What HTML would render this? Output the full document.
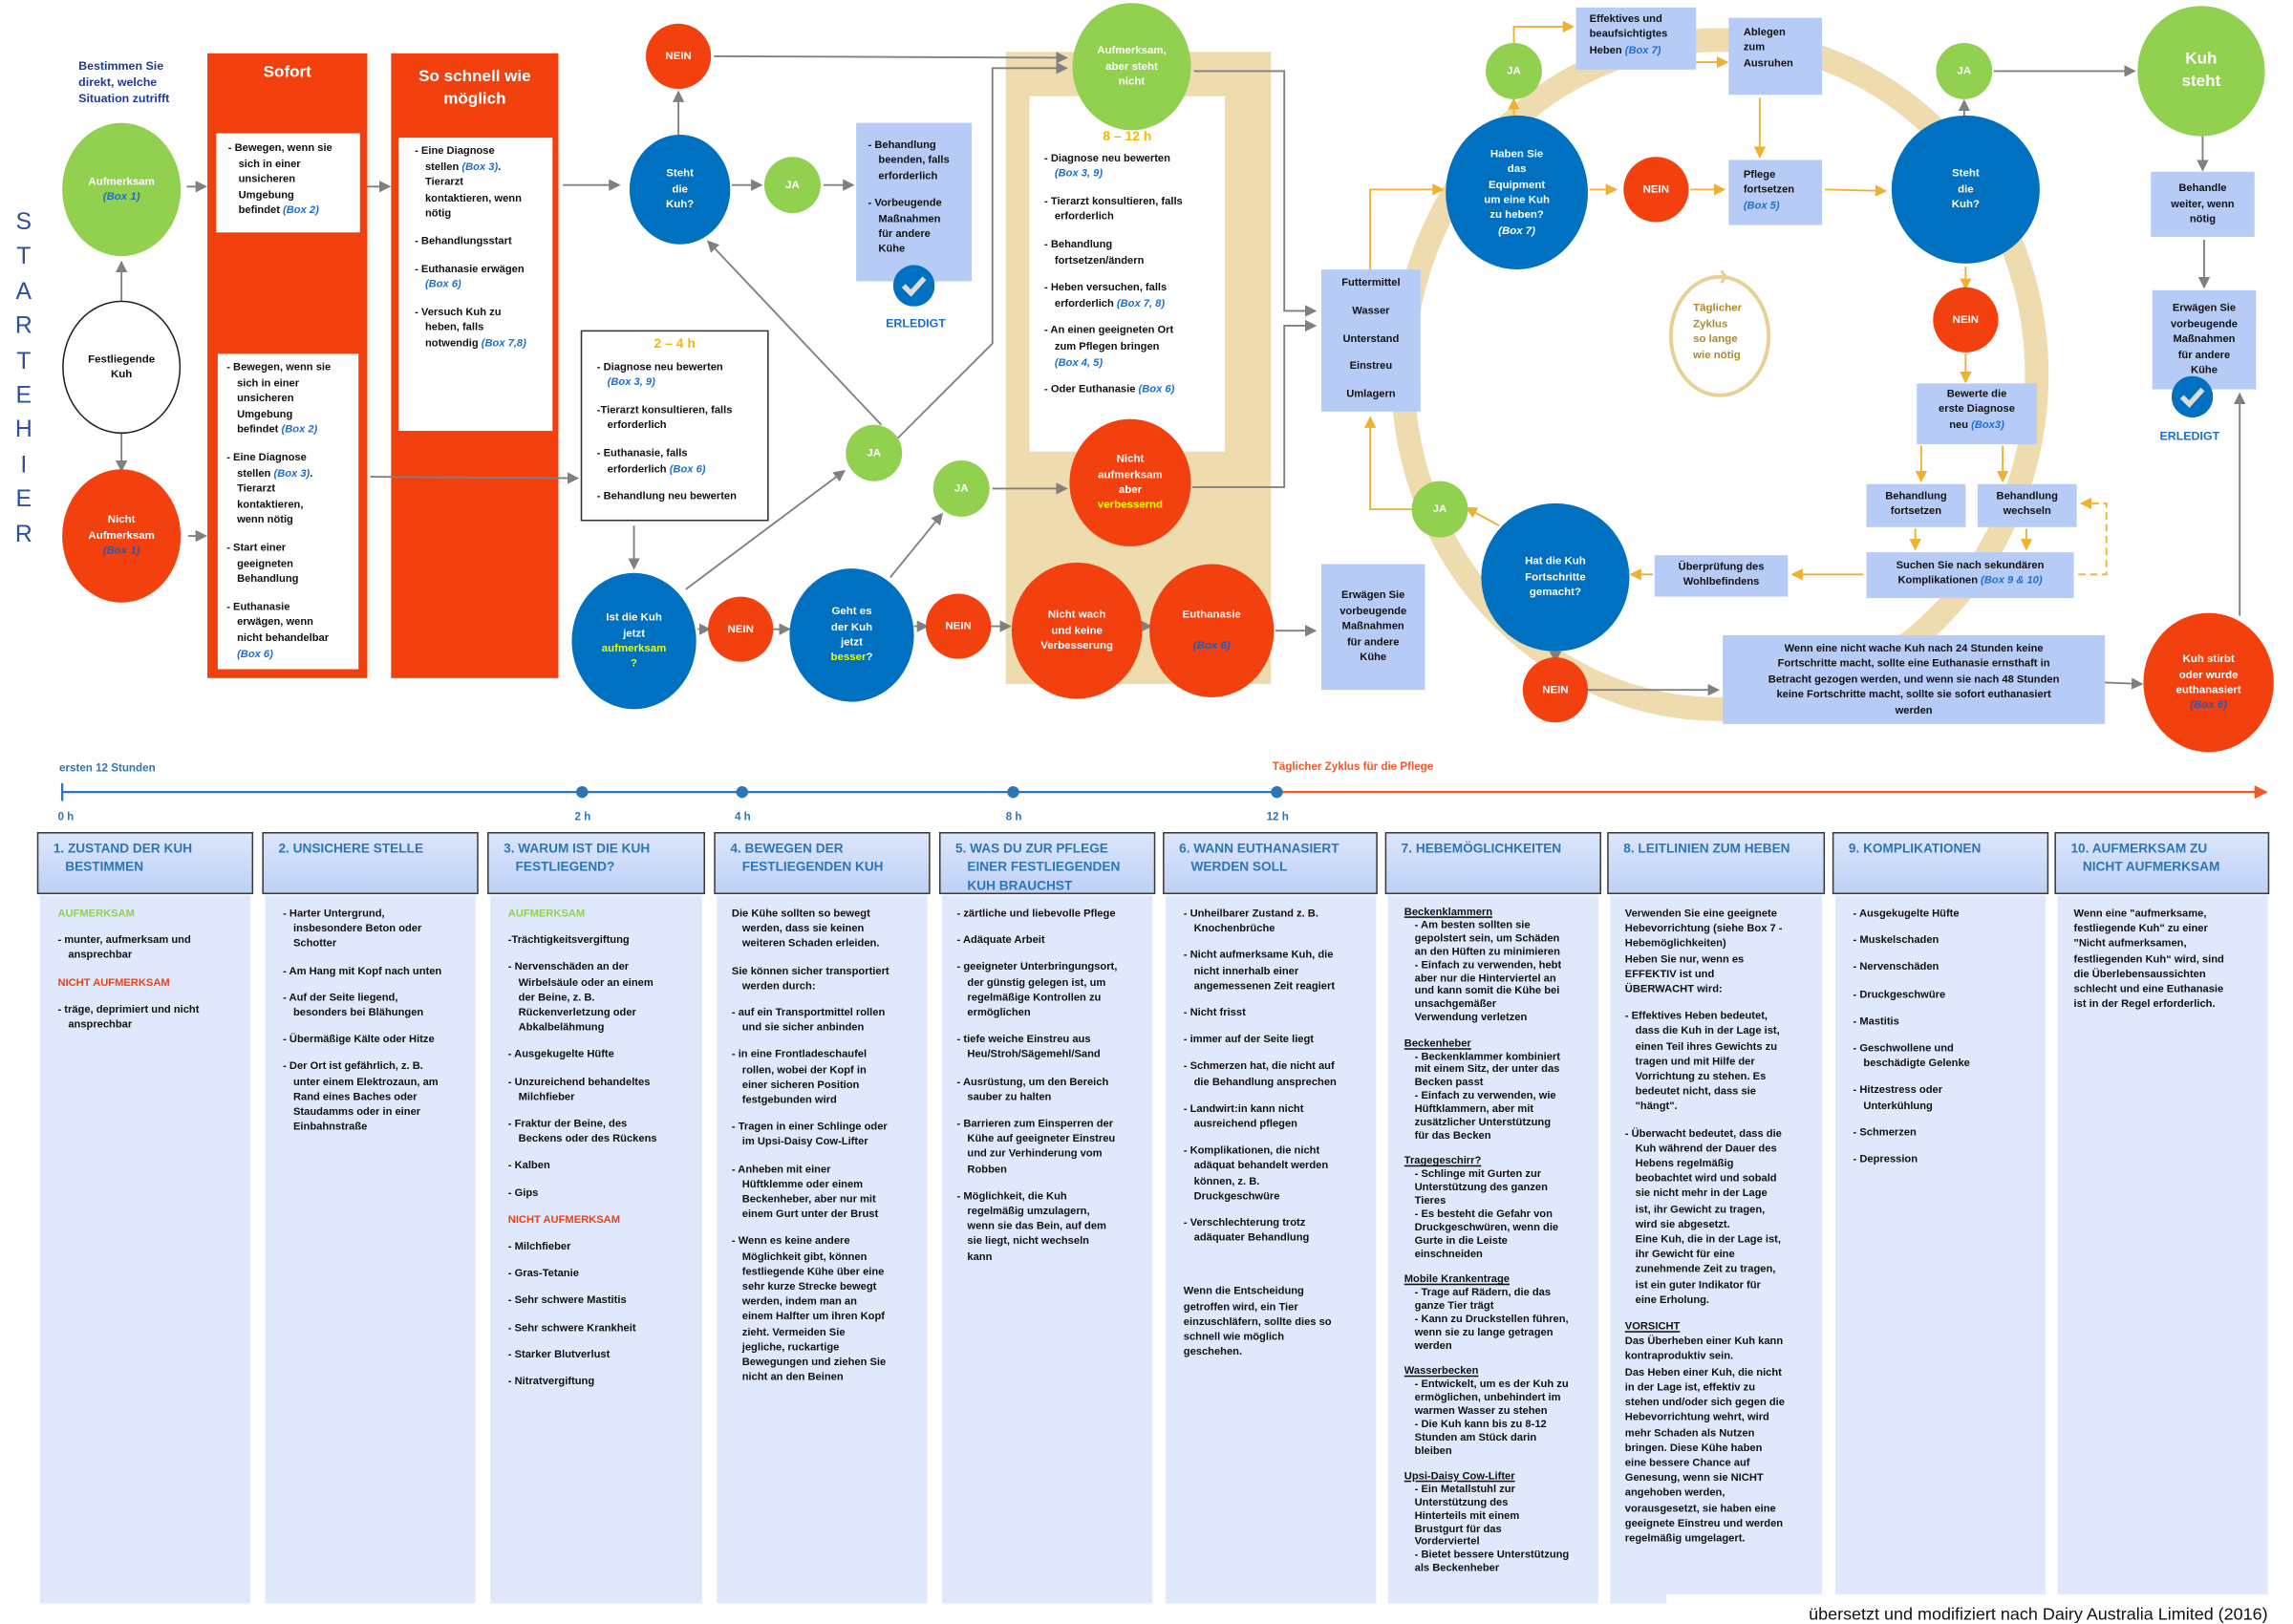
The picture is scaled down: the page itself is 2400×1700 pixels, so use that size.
<!DOCTYPE html>
<html><head><meta charset="utf-8">
<style>
body{margin:0;width:2400px;height:1697px;overflow:hidden;background:#fff}
#c{position:absolute;left:0;top:0;width:1548px;height:1095px;transform:scale(1.5504,1.5498);transform-origin:0 0;font-family:"Liberation Sans",Arial,sans-serif;font-weight:bold;color:#111}
.a{position:absolute}
.ci{position:absolute;border-radius:50%;display:flex;align-items:center;justify-content:center;text-align:center;color:#fff;font-size:7.4px;line-height:10.4px}
.g{background:#92d050}.r{background:#f2400f}.b{background:#0070c0}
.bx{position:absolute;background:#b7cbf7;font-size:7.2px;line-height:10.4px;color:#111}
.wb{position:absolute;background:#fff;font-size:7.2px;line-height:10.6px}
.t p{margin:0 0 8px 0;padding-left:7px;text-indent:-7px;white-space:nowrap}
.bl{color:#1f6fd0;font-style:italic}
.bb{color:#3355aa;font-style:italic}
.col{position:absolute;top:605px;height:478px;background:#dfe9fb;font-size:7.2px;line-height:10.2px}
.col .t{position:absolute;left:12px;top:7px}
.hd{position:absolute;top:562px;height:42px;border:1px solid #3a3a3a;background:linear-gradient(#dbe6fb,#bed1f5);color:#2e75b6;font-size:8.8px;line-height:12.3px;box-sizing:border-box;padding:4px 0 0 10px;white-space:nowrap}
.hd span{display:block;padding-left:8px}
.gr{color:#92d050}.rd{color:#f2400f}
u{text-decoration:underline}
</style></head><body><div id="c">

<div class="a" style="left:679px;top:35px;width:179px;height:427px;background:#eedcae"></div>
<div class="a" style="left:140px;top:36px;width:108px;height:422px;background:#f2400f"></div>
<div class="a" style="left:264px;top:36px;width:113px;height:422px;background:#f2400f"></div>

<svg class="a" style="left:0;top:0" width="1548" height="1095" viewBox="0 0 1548 1095">
<defs>
<marker id="m" markerWidth="8" markerHeight="8" refX="7" refY="4" orient="auto" markerUnits="userSpaceOnUse"><path d="M0,0 L8,4 L0,8z" fill="#808080"/></marker>
<marker id="o" markerWidth="8" markerHeight="8" refX="7" refY="4" orient="auto" markerUnits="userSpaceOnUse"><path d="M0,0 L8,4 L0,8z" fill="#f0b030"/></marker>
<marker id="t" markerWidth="9" markerHeight="9" refX="8" refY="4.5" orient="auto" markerUnits="userSpaceOnUse"><path d="M0,0 L9,4.5 L0,9z" fill="#f05a28"/></marker>
</defs>
<ellipse cx="1161" cy="253" rx="214" ry="226" fill="none" stroke="#eedcae" stroke-width="16"/>
<ellipse cx="1161" cy="227" rx="33" ry="40" fill="none" stroke="#e8cf94" stroke-width="2.5"/>
<path d="M1157,187 l8,0 l-3,-4 M1165,187 l-3,4" stroke="#e8cf94" stroke-width="2" fill="none"/>
<g stroke="#808080" stroke-width="1.2" fill="none" marker-end="url(#m)">
<line x1="82" y1="205" x2="82" y2="177"/>
<line x1="82" y1="292" x2="82" y2="318"/>
<line x1="126" y1="126" x2="139" y2="126"/>
<line x1="127" y1="362" x2="139" y2="362"/>
<line x1="248" y1="126" x2="263" y2="126"/>
<line x1="380" y1="125" x2="418" y2="125"/>
<line x1="458" y1="91" x2="458" y2="62"/>
<line x1="494" y1="125" x2="514" y2="125"/>
<line x1="556" y1="125" x2="576" y2="125"/>
<line x1="482" y1="38" x2="720" y2="39"/>
<polyline points="606,296 670,232 670,46 720,46"/>
<line x1="595" y1="287" x2="478" y2="163"/>
<line x1="250" y1="322" x2="390" y2="323"/>
<line x1="428" y1="355" x2="428" y2="384"/>
<line x1="463" y1="398" x2="570" y2="318"/>
<line x1="471" y1="425" x2="479" y2="425"/>
<line x1="522" y1="425" x2="533" y2="425"/>
<line x1="601" y1="390" x2="636" y2="347"/>
<line x1="670" y1="330" x2="720" y2="330"/>
<line x1="617" y1="423" x2="626" y2="423"/>
<line x1="669" y1="423" x2="682" y2="423"/>
<line x1="771" y1="423" x2="777" y2="423"/>
<line x1="861" y1="426" x2="888" y2="426"/>
<polyline points="806,48 867,48 867,210 888,210"/>
<polyline points="805,329 867,329 867,220 888,220"/>
<line x1="1326" y1="80" x2="1326" y2="68"/>
<line x1="1346" y1="48" x2="1441" y2="48"/>
<line x1="1487" y1="92" x2="1487" y2="115"/>
<line x1="1488" y1="162" x2="1488" y2="194"/>
<line x1="1512" y1="416" x2="1512" y2="266"/>
<line x1="1050" y1="441" x2="1050" y2="447"/>
<line x1="1072" y1="466" x2="1160" y2="466"/>
<line x1="1421" y1="461" x2="1446" y2="462"/>
</g>
<g stroke="#f0b030" stroke-width="1.2" fill="none" marker-end="url(#o)">
<polyline points="1022,29 1022,18 1062,18"/>
<line x1="1145" y1="42" x2="1166" y2="42"/>
<line x1="1188" y1="66" x2="1188" y2="106"/>
<line x1="1022" y1="80" x2="1022" y2="67"/>
<line x1="1073" y1="128" x2="1091" y2="128"/>
<line x1="1141" y1="128" x2="1164" y2="128"/>
<line x1="1232" y1="128" x2="1273" y2="129"/>
<line x1="1327" y1="180" x2="1327" y2="195"/>
<line x1="1327" y1="239" x2="1327" y2="258"/>
<line x1="1297" y1="301" x2="1297" y2="325"/>
<line x1="1352" y1="301" x2="1352" y2="325"/>
<line x1="1293" y1="357" x2="1293" y2="371"/>
<line x1="1368" y1="357" x2="1368" y2="371"/>
<line x1="1258" y1="388" x2="1210" y2="388"/>
<line x1="1116" y1="388" x2="1101" y2="388"/>
<line x1="1012" y1="355" x2="990" y2="343"/>
<polyline points="953,344 925,344 925,282"/>
<polyline points="925,182 925,128 974,128"/>
<polyline points="1403,388 1422,388 1422,340 1405,340" stroke-dasharray="5,3"/>
</g>
<line x1="42" y1="535" x2="862" y2="535" stroke="#2e75b6" stroke-width="1.5"/>
<line x1="42" y1="529" x2="42" y2="541" stroke="#2e75b6" stroke-width="1.5"/>
<line x1="862" y1="535" x2="1530" y2="535" stroke="#f05a28" stroke-width="1.5" marker-end="url(#t)"/>
<g fill="#2e75b6"><circle cx="393" cy="535" r="4"/><circle cx="501" cy="535" r="4"/><circle cx="684" cy="535" r="4"/><circle cx="862" cy="535" r="4"/></g>
<g font-family="Liberation Sans,Arial,sans-serif" font-weight="bold" font-size="7.5" fill="#2e75b6">
<text x="40" y="521">ersten 12 Stunden</text>
<text x="39" y="554">0 h</text><text x="388" y="554">2 h</text><text x="496" y="554">4 h</text><text x="679" y="554">8 h</text><text x="855" y="554">12 h</text>
<text x="859" y="520" fill="#f05a28">Täglicher Zyklus für die Pflege</text>
</g>
</svg>

<div class="a" style="left:53px;top:39px;font-size:8px;line-height:11.2px;color:#1f3a93">Bestimmen Sie<br>direkt, welche<br>Situation zutrifft</div>
<div class="a" style="left:6px;top:139px;width:20px;text-align:center;font-weight:normal;font-size:16px;line-height:23.4px;color:#2c4f9e">S<br>T<br>A<br>R<br>T<br>E<br>H<br>I<br>E<br>R</div>

<div class="ci g" style="left:42px;top:83px;width:80px;height:90px"><div>Aufmerksam<br><span class="bl">(Box 1)</span></div></div>
<div class="ci" style="left:42px;top:203px;width:78px;height:88px;border:1px solid #222;color:#111;background:#fff"><div>Festliegende<br>Kuh</div></div>
<div class="ci r" style="left:42px;top:317px;width:80px;height:90px"><div>Nicht<br>Aufmerksam<br><span class="bb">(Box 1)</span></div></div>

<div class="a" style="left:140px;top:43px;width:108px;text-align:center;color:#fff;font-size:11px">Sofort</div>
<div class="a" style="left:264px;top:45px;width:113px;text-align:center;color:#fff;font-size:11px;line-height:15px">So schnell wie<br>möglich</div>

<div class="wb t" style="left:146px;top:90px;width:97px;height:67px"><div style="padding:5px 0 0 8px"><p>- Bewegen, wenn sie<br>sich in einer<br>unsicheren<br>Umgebung<br>befindet <span class="bl">(Box 2)</span></p></div></div>
<div class="wb t" style="left:147px;top:239px;width:95px;height:213px"><div style="padding:4px 0 0 6px"><p>- Bewegen, wenn sie<br>sich in einer<br>unsicheren<br>Umgebung<br>befindet <span class="bl">(Box 2)</span></p><p>- Eine Diagnose<br>stellen <span class="bl">(Box 3)</span>.<br>Tierarzt<br>kontaktieren,<br>wenn nötig</p><p>- Start einer<br>geeigneten<br>Behandlung</p><p>- Euthanasie<br>erwägen, wenn<br>nicht behandelbar<br><span class="bl">(Box 6)</span></p></div></div>
<div class="wb t" style="left:269px;top:93px;width:104px;height:198px"><div style="padding:4px 0 0 11px"><p>- Eine Diagnose<br>stellen <span class="bl">(Box 3)</span>.<br>Tierarzt<br>kontaktieren, wenn<br>nötig</p><p>- Behandlungsstart</p><p>- Euthanasie erwägen<br><span class="bl">(Box 6)</span></p><p>- Versuch Kuh zu<br>heben, falls<br>notwendig <span class="bl">(Box 7,8)</span></p></div></div>

<div class="wb t" style="left:392px;top:223px;width:125px;height:127px;border:1.2px solid #333"><div style="text-align:center;color:#f5b800;font-size:9px;padding-top:3px;margin-bottom:5px">2 – 4 h</div><div style="padding-left:10px"><p>- Diagnose neu bewerten<br><span class="bl">(Box 3, 9)</span></p><p>-Tierarzt konsultieren, falls<br>erforderlich</p><p>- Euthanasie, falls<br>erforderlich <span class="bl">(Box 6)</span></p><p>- Behandlung neu bewerten</p></div></div>

<div class="ci b" style="left:425px;top:91px;width:68px;height:74px"><div>Steht<br>die<br>Kuh?</div></div>
<div class="ci r" style="left:436px;top:16px;width:44px;height:44px"><div>NEIN</div></div>
<div class="ci g" style="left:516px;top:106px;width:38px;height:38px"><div>JA</div></div>
<div class="bx t" style="left:578px;top:83px;width:78px;height:107px"><div style="padding:10px 0 0 8px"><p>- Behandlung<br>beenden, falls<br>erforderlich</p><p>- Vorbeugende<br>Maßnahmen<br>für andere<br>Kühe</p></div></div>

<div class="wb t" style="left:695px;top:65px;width:132px;height:240px"><div style="text-align:center;color:#f5b800;font-size:9px;padding-top:22px;margin-bottom:4px">8 – 12 h</div><div style="padding-left:10px"><p>- Diagnose neu bewerten<br><span class="bl">(Box 3, 9)</span></p><p>- Tierarzt konsultieren, falls<br>erforderlich</p><p>- Behandlung<br>fortsetzen/ändern</p><p>- Heben versuchen, falls<br>erforderlich <span class="bl">(Box 7, 8)</span></p><p>- An einen geeigneten Ort<br>zum Pflegen bringen<br><span class="bl">(Box 4, 5)</span></p><p>- Oder Euthanasie <span class="bl">(Box 6)</span></p></div></div>
<div class="ci g" style="left:724px;top:2px;width:80px;height:86px"><div>Aufmerksam,<br>aber steht<br>nicht</div></div>
<div class="ci r" style="left:722px;top:283px;width:82px;height:86px"><div>Nicht<br>aufmerksam<br>aber<br><span style="color:#ffff00">verbessernd</span></div></div>
<div class="ci g" style="left:571px;top:287px;width:38px;height:38px"><div>JA</div></div>
<div class="ci b" style="left:386px;top:387px;width:84px;height:92px"><div>Ist die Kuh<br>jetzt<br><span style="color:#e6ff00">aufmerksam</span><br><span style="color:#e6ff00">?</span></div></div>
<div class="ci r" style="left:478px;top:403px;width:44px;height:44px"><div>NEIN</div></div>
<div class="ci b" style="left:533px;top:384px;width:84px;height:90px"><div>Geht es<br>der Kuh<br>jetzt<br><span style="color:#e6ff00">besser</span>?</div></div>
<div class="ci g" style="left:630px;top:311px;width:38px;height:38px"><div>JA</div></div>
<div class="ci r" style="left:625px;top:401px;width:44px;height:44px"><div>NEIN</div></div>
<div class="ci r" style="left:683px;top:380px;width:88px;height:92px"><div>Nicht wach<br>und keine<br>Verbesserung</div></div>
<div class="ci r" style="left:776px;top:381px;width:84px;height:90px"><div>Euthanasie<br><br><span class="bb">(Box 6)</span></div></div>

<div class="bx" style="left:892px;top:381px;width:70px;height:85px;display:flex;align-items:center;justify-content:center;text-align:center"><div>Erwägen Sie<br>vorbeugende<br>Maßnahmen<br>für andere<br>Kühe</div></div>
<div class="bx" style="left:892px;top:182px;width:67px;height:96px;text-align:center;line-height:18.8px"><div>Futtermittel<br>Wasser<br>Unterstand<br>Einstreu<br>Umlagern</div></div>

<div class="ci g" style="left:1003px;top:29px;width:38px;height:38px"><div>JA</div></div>
<div class="bx" style="left:1064px;top:5px;width:81px;height:42px;padding:3px 0 0 9px;box-sizing:border-box">Effektives und<br>beaufsichtigtes<br>Heben <span class="bl">(Box 7)</span></div>
<div class="bx" style="left:1167px;top:12px;width:63px;height:52px;padding:5px 0 0 10px;box-sizing:border-box">Ablegen<br>zum<br>Ausruhen</div>
<div class="ci b" style="left:976px;top:78px;width:96px;height:104px"><div>Haben Sie<br>das<br>Equipment<br>um eine Kuh<br>zu heben?<br><i>(Box 7)</i></div></div>
<div class="ci r" style="left:1096px;top:106px;width:44px;height:44px"><div>NEIN</div></div>
<div class="bx" style="left:1167px;top:108px;width:63px;height:44px;padding:5px 0 0 10px;box-sizing:border-box">Pflege<br>fortsetzen<br><span class="bl">(Box 5)</span></div>
<div class="ci b" style="left:1277px;top:78px;width:100px;height:100px"><div>Steht<br>die<br>Kuh?</div></div>
<div class="ci g" style="left:1307px;top:29px;width:38px;height:38px"><div>JA</div></div>
<div class="ci g" style="left:1443px;top:4px;width:86px;height:88px;font-size:11px;line-height:15px"><div>Kuh<br>steht</div></div>
<div class="bx" style="left:1452px;top:116px;width:70px;height:44px;display:flex;align-items:center;justify-content:center;text-align:center"><div>Behandle<br>weiter, wenn<br>nötig</div></div>
<div class="bx" style="left:1453px;top:196px;width:70px;height:67px;display:flex;align-items:center;justify-content:center;text-align:center"><div>Erwägen Sie<br>vorbeugende<br>Maßnahmen<br>für andere<br>Kühe</div></div>
<div class="a" style="left:1143px;top:203px;font-size:7.4px;line-height:10.6px;color:#b08a2a">Täglicher<br>Zyklus<br>so lange<br>wie nötig</div>
<div class="ci r" style="left:1305px;top:194px;width:44px;height:44px"><div>NEIN</div></div>
<div class="bx" style="left:1294px;top:259px;width:81px;height:41px;text-align:center;padding-top:2px;box-sizing:border-box">Bewerte die<br>erste Diagnose<br>neu <span class="bl">(Box3)</span></div>
<div class="bx" style="left:1260px;top:327px;width:67px;height:29px;text-align:center;padding-top:3px;box-sizing:border-box">Behandlung<br>fortsetzen</div>
<div class="bx" style="left:1335px;top:327px;width:67px;height:29px;text-align:center;padding-top:3px;box-sizing:border-box">Behandlung<br>wechseln</div>
<div class="bx" style="left:1260px;top:373px;width:140px;height:31px;text-align:center;padding-top:4px;box-sizing:border-box">Suchen Sie nach sekundären<br>Komplikationen <span class="bl">(Box 9 &amp; 10)</span></div>
<div class="bx" style="left:1117px;top:375px;width:90px;height:28px;text-align:center;padding-top:3px;box-sizing:border-box">Überprüfung des<br>Wohlbefindens</div>
<div class="ci b" style="left:1000px;top:340px;width:100px;height:100px"><div>Hat die Kuh<br>Fortschritte<br>gemacht?</div></div>
<div class="ci g" style="left:953px;top:325px;width:38px;height:38px"><div>JA</div></div>
<div class="ci r" style="left:1028px;top:444px;width:44px;height:44px"><div>NEIN</div></div>
<div class="bx" style="left:1163px;top:429px;width:258px;height:60px;text-align:center;padding-top:4px;box-sizing:border-box">Wenn eine nicht wache Kuh nach 24 Stunden keine<br>Fortschritte macht, sollte eine Euthanasie ernsthaft in<br>Betracht gezogen werden, und wenn sie nach 48 Stunden<br>keine Fortschritte macht, sollte sie sofort euthanasiert<br>werden</div>
<div class="ci r" style="left:1447px;top:414px;width:88px;height:94px"><div>Kuh stirbt<br>oder wurde<br>euthanasiert<br><span class="bb">(Box 6)</span></div></div>

<svg class="a" style="left:603px;top:179px" width="28" height="28"><circle cx="14" cy="14" r="14" fill="#0070c0"/><polyline points="7,14 12,19 21,9" fill="none" stroke="#ddd" stroke-width="3.5"/></svg>
<div class="a" style="left:598px;top:214px;font-size:8px;color:#1f6fd0">ERLEDIGT</div>
<svg class="a" style="left:1466px;top:254px" width="28" height="28"><circle cx="14" cy="14" r="14" fill="#0070c0"/><polyline points="7,14 12,19 21,9" fill="none" stroke="#ddd" stroke-width="3.5"/></svg>
<div class="a" style="left:1458px;top:290px;font-size:8px;color:#1f6fd0">ERLEDIGT</div>

<div class="hd" style="left:25px;width:146px">1. ZUSTAND DER KUH<span>BESTIMMEN</span></div>
<div class="hd" style="left:177px;width:146px">2. UNSICHERE STELLE</div>
<div class="hd" style="left:329px;width:147px">3. WARUM IST DIE KUH<span>FESTLIEGEND?</span></div>
<div class="hd" style="left:482px;width:146px">4. BEWEGEN DER<span>FESTLIEGENDEN KUH</span></div>
<div class="hd" style="left:634px;width:146px">5. WAS DU ZUR PFLEGE<span>EINER FESTLIEGENDEN</span><span>KUH BRAUCHST</span></div>
<div class="hd" style="left:785px;width:145px">6. WANN EUTHANASIERT<span>WERDEN SOLL</span></div>
<div class="hd" style="left:935px;width:146px">7. HEBEMÖGLICHKEITEN</div>
<div class="hd" style="left:1085px;width:147px">8. LEITLINIEN ZUM HEBEN</div>
<div class="hd" style="left:1237px;width:146px">9. KOMPLIKATIONEN</div>
<div class="hd" style="left:1387px;width:145px">10. AUFMERKSAM ZU<span>NICHT AUFMERKSAM</span></div>

<div class="col" style="left:27px;width:142px"><div class="t"><p class="gr">AUFMERKSAM</p><p>- munter, aufmerksam und<br>ansprechbar</p><p class="rd">NICHT AUFMERKSAM</p><p>- träge, deprimiert und nicht<br>ansprechbar</p></div></div>
<div class="col" style="left:179px;width:142px"><div class="t"><p>- Harter Untergrund,<br>insbesondere Beton oder<br>Schotter</p><p>- Am Hang mit Kopf nach unten</p><p>- Auf der Seite liegend,<br>besonders bei Blähungen</p><p>- Übermäßige Kälte oder Hitze</p><p>- Der Ort ist gefährlich, z. B.<br>unter einem Elektrozaun, am<br>Rand eines Baches oder<br>Staudamms oder in einer<br>Einbahnstraße</p></div></div>
<div class="col" style="left:331px;width:143px"><div class="t"><p class="gr">AUFMERKSAM</p><p>-Trächtigkeitsvergiftung</p><p>- Nervenschäden an der<br>Wirbelsäule oder an einem<br>der Beine, z. B.<br>Rückenverletzung oder<br>Abkalbelähmung</p><p>- Ausgekugelte Hüfte</p><p>- Unzureichend behandeltes<br>Milchfieber</p><p>- Fraktur der Beine, des<br>Beckens oder des Rückens</p><p>- Kalben</p><p>- Gips</p><p class="rd">NICHT AUFMERKSAM</p><p>- Milchfieber</p><p>- Gras-Tetanie</p><p>- Sehr schwere Mastitis</p><p>- Sehr schwere Krankheit</p><p>- Starker Blutverlust</p><p>- Nitratvergiftung</p></div></div>
<div class="col" style="left:484px;width:142px"><div class="t" style="left:10px"><p>Die Kühe sollten so bewegt<br>werden, dass sie keinen<br>weiteren Schaden erleiden.</p><p>Sie können sicher transportiert<br>werden durch:</p><p>- auf ein Transportmittel rollen<br>und sie sicher anbinden</p><p>- in eine Frontladeschaufel<br>rollen, wobei der Kopf in<br>einer sicheren Position<br>festgebunden wird</p><p>- Tragen in einer Schlinge oder<br>im Upsi-Daisy Cow-Lifter</p><p>- Anheben mit einer<br>Hüftklemme oder einem<br>Beckenheber, aber nur mit<br>einem Gurt unter der Brust</p><p>- Wenn es keine andere<br>Möglichkeit gibt, können<br>festliegende Kühe über eine<br>sehr kurze Strecke bewegt<br>werden, indem man an<br>einem Halfter um ihren Kopf<br>zieht. Vermeiden Sie<br>jegliche, ruckartige<br>Bewegungen und ziehen Sie<br>nicht an den Beinen</p></div></div>
<div class="col" style="left:636px;width:142px"><div class="t" style="left:10px"><p>- zärtliche und liebevolle Pflege</p><p>- Adäquate Arbeit</p><p>- geeigneter Unterbringungsort,<br>der günstig gelegen ist, um<br>regelmäßige Kontrollen zu<br>ermöglichen</p><p>- tiefe weiche Einstreu aus<br>Heu/Stroh/Sägemehl/Sand</p><p>- Ausrüstung, um den Bereich<br>sauber zu halten</p><p>- Barrieren zum Einsperren der<br>Kühe auf geeigneter Einstreu<br>und zur Verhinderung vom<br>Robben</p><p>- Möglichkeit, die Kuh<br>regelmäßig umzulagern,<br>wenn sie das Bein, auf dem<br>sie liegt, nicht wechseln<br>kann</p></div></div>
<div class="col" style="left:787px;width:142px"><div class="t"><p>- Unheilbarer Zustand z. B.<br>Knochenbrüche</p><p>- Nicht aufmerksame Kuh, die<br>nicht innerhalb einer<br>angemessenen Zeit reagiert</p><p>- Nicht frisst</p><p>- immer auf der Seite liegt</p><p>- Schmerzen hat, die nicht auf<br>die Behandlung ansprechen</p><p>- Landwirt:in kann nicht<br>ausreichend pflegen</p><p>- Komplikationen, die nicht<br>adäquat behandelt werden<br>können, z. B.<br>Druckgeschwüre</p><p style="margin-bottom:26px">- Verschlechterung trotz<br>adäquater Behandlung</p><p style="padding:0;text-indent:0">Wenn die Entscheidung<br>getroffen wird, ein Tier<br>einzuschläfern, sollte dies so<br>schnell wie möglich<br>geschehen.</p></div></div>
<div class="col" style="left:937px;width:142px;line-height:8.9px"><div class="t" style="left:11px;top:7px"><p style="margin-bottom:8.5px"><u>Beckenklammern</u><br>- Am besten sollten sie<br>gepolstert sein, um Schäden<br>an den Hüften zu minimieren<br>- Einfach zu verwenden, hebt<br>aber nur die Hinterviertel an<br>und kann somit die Kühe bei<br>unsachgemäßer<br>Verwendung verletzen</p><p style="margin-bottom:8.5px"><u>Beckenheber</u><br>- Beckenklammer kombiniert<br>mit einem Sitz, der unter das<br>Becken passt<br>- Einfach zu verwenden, wie<br>Hüftklammern, aber mit<br>zusätzlicher Unterstützung<br>für das Becken</p><p style="margin-bottom:8.5px"><u>Tragegeschirr?</u><br>- Schlinge mit Gurten zur<br>Unterstützung des ganzen<br>Tieres<br>- Es besteht die Gefahr von<br>Druckgeschwüren, wenn die<br>Gurte in die Leiste<br>einschneiden</p><p style="margin-bottom:8.5px"><u>Mobile Krankentrage</u><br>- Trage auf Rädern, die das<br>ganze Tier trägt<br>- Kann zu Druckstellen führen,<br>wenn sie zu lange getragen<br>werden</p><p style="margin-bottom:8.5px"><u>Wasserbecken</u><br>- Entwickelt, um es der Kuh zu<br>ermöglichen, unbehindert im<br>warmen Wasser zu stehen<br>- Die Kuh kann bis zu 8-12<br>Stunden am Stück darin<br>bleiben</p><p><u>Upsi-Daisy Cow-Lifter</u><br>- Ein Metallstuhl zur<br>Unterstützung des<br>Hinterteils mit einem<br>Brustgurt für das<br>Vorderviertel<br>- Bietet bessere Unterstützung<br>als Beckenheber</p></div></div>
<div class="col" style="left:1087px;width:143px;line-height:10.2px"><div class="t" style="left:10px"><p style="padding:0;text-indent:0">Verwenden Sie eine geeignete<br>Hebevorrichtung (siehe Box 7 -<br>Hebemöglichkeiten)<br>Heben Sie nur, wenn es<br>EFFEKTIV ist und<br>ÜBERWACHT wird:</p><p>- Effektives Heben bedeutet,<br>dass die Kuh in der Lage ist,<br>einen Teil ihres Gewichts zu<br>tragen und mit Hilfe der<br>Vorrichtung zu stehen. Es<br>bedeutet nicht, dass sie<br>"hängt".</p><p>- Überwacht bedeutet, dass die<br>Kuh während der Dauer des<br>Hebens regelmäßig<br>beobachtet wird und sobald<br>sie nicht mehr in der Lage<br>ist, ihr Gewicht zu tragen,<br>wird sie abgesetzt.<br>Eine Kuh, die in der Lage ist,<br>ihr Gewicht für eine<br>zunehmende Zeit zu tragen,<br>ist ein guter Indikator für<br>eine Erholung.</p><p style="padding:0;text-indent:0"><u>VORSICHT</u><br>Das Überheben einer Kuh kann<br>kontraproduktiv sein.<br>Das Heben einer Kuh, die nicht<br>in der Lage ist, effektiv zu<br>stehen und/oder sich gegen die<br>Hebevorrichtung wehrt, wird<br>mehr Schaden als Nutzen<br>bringen. Diese Kühe haben<br>eine bessere Chance auf<br>Genesung, wenn sie NICHT<br>angehoben werden,<br>vorausgesetzt, sie haben eine<br>geeignete Einstreu und werden<br>regelmäßig umgelagert.</p></div></div>
<div class="col" style="left:1239px;width:142px"><div class="t"><p>- Ausgekugelte Hüfte</p><p>- Muskelschaden</p><p>- Nervenschäden</p><p>- Druckgeschwüre</p><p>- Mastitis</p><p>- Geschwollene und<br>beschädigte Gelenke</p><p>- Hitzestress oder<br>Unterkühlung</p><p>- Schmerzen</p><p>- Depression</p></div></div>
<div class="col" style="left:1389px;width:142px"><div class="t" style="left:11px"><p style="padding:0;text-indent:0">Wenn eine "aufmerksame,<br>festliegende Kuh" zu einer<br>"Nicht aufmerksamen,<br>festliegenden Kuh“ wird, sind<br>die Überlebensaussichten<br>schlecht und eine Euthanasie<br>ist in der Regel erforderlich.</p></div></div>

<div class="a" style="left:1125px;top:1077px;width:406px;height:18px;background:#fff"></div>
<div class="a" style="right:17px;top:1084px;font-weight:normal;font-size:11.6px;color:#111;white-space:nowrap">übersetzt und modifiziert nach Dairy Australia Limited (2016)</div>
</div></body></html>
